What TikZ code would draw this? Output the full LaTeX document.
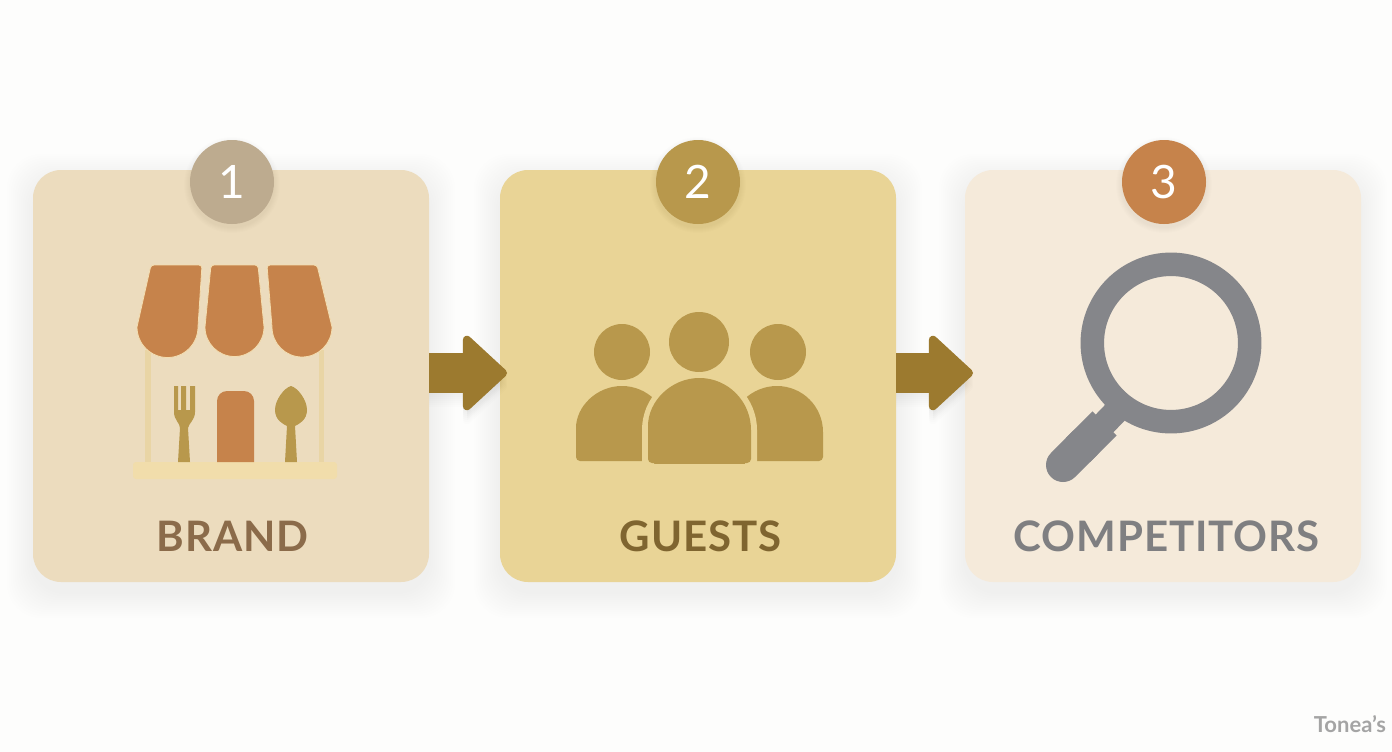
\documentclass[tikz,border=0pt]{standalone}
\usepackage{fontspec}
\setmainfont{Lato}
\newfontfamily\titlefont[LetterSpace=2]{Lato}
\usetikzlibrary{arrows.meta}

\definecolor{pagec}{HTML}{FDFDFC}
\definecolor{brandc}{HTML}{ECDCBE}
\definecolor{guestc}{HTML}{E9D496}
\definecolor{rivalc}{HTML}{F5EADA}
\definecolor{tanc}{HTML}{BDAB8F}
\definecolor{goldc}{HTML}{B8984C}
\definecolor{rustc}{HTML}{C6834B}
\definecolor{arrowc}{HTML}{9C7A2F}
\definecolor{glassc}{HTML}{85868A}
\definecolor{rimc}{HTML}{F3DDB0}
\definecolor{polec}{HTML}{E9D5A5}
\definecolor{basec}{HTML}{F1DDAB}
\definecolor{brandtext}{HTML}{8B6B4A}
\definecolor{guesttext}{HTML}{7F6530}
\definecolor{rivaltext}{HTML}{7F7F81}
\definecolor{marktext}{HTML}{A4A4A4}

\tikzset{
    card/.style={rectangle,rounded corners=28pt,minimum width=396pt,minimum height=412pt,inner sep=0pt,outer sep=0pt},
    badge/.style={circle,minimum size=84pt,inner sep=0pt,outer sep=0pt,text=white,font=\fontsize{46}{46}\selectfont},
    title/.style={font=\titlefont\bfseries\fontsize{42}{42}\selectfont,inner sep=0pt},
    flowtip/.style={-{Triangle[length=46pt,width=83pt,line width=8pt,round]}},
    flow/.style={arrowc,line width=40pt,flowtip},
    awning/.style={fill=rustc,draw=rimc,line width=0.8pt},
    utensil/.style={fill=goldc},
    person/.style={fill=goldc},
    glass/.style={glassc,line cap=butt}
}

\begin{document}
\begin{tikzpicture}[x=1pt,y=-1pt]

\useasboundingbox (0,0) rectangle (1392,752);
\fill[pagec] (0,0) rectangle (1392,752);

% Cards with soft shadows
\foreach \x/\name/\col in {231/brand/brandc,698/guests/guestc,1163/rivals/rivalc} {
    \foreach \s in {2,4,...,26} {
        \fill[black,opacity=0.0035,rounded corners=34pt]
            (\x-198-\s,170-\s+10) rectangle (\x+198+\s,582+\s+10);
    }
    \node[card,fill=\col] (\name) at (\x,376) {};
}

% Badges
\foreach \x/\name/\col/\num in {232/one/tanc/1,698/two/goldc/2,1164/three/rustc/3} {
    \foreach \s in {1,2,...,6} {
        \fill[black,opacity=0.006] (\x,185) circle[radius=42+\s];
    }
    \node[badge,fill=\col] (\name) at (\x,182) {\raisebox{-1pt}{\num}};
}

% Arrows
\foreach \a/\b/\t in {brand/guests/7,guests/rivals/8} {
    \foreach \d in {2,4,...,14} {
        \draw[black,opacity=0.007,line width=40pt,flowtip]
            ([shift={(0,-3+\d)}]\a.east) -- ([shift={(\t,-3+\d)}]\b.west);
    }
    \draw[flow] ([shift={(0,-3)}]\a.east) -- ([shift={(\t,-3)}]\b.west);
}

% Store
\fill[polec] (145,350) rectangle (151,464);
\fill[polec] (319,350) rectangle (324,464);
\fill[basec,rounded corners=3pt] (133,462) rectangle (337,479);
\draw[awning] (137,327) [rounded corners=3pt] -- (151,265) -- (202,265) [sharp corners] -- (198,327) arc[start angle=0,end angle=180,radius=30.5] -- cycle;
\draw[awning] (205,327) [rounded corners=3pt] -- (211,265) -- (258,265) [sharp corners] -- (264,327) arc[start angle=0,end angle=180,radius=29.5] -- cycle;
\draw[awning] (272,327) [rounded corners=3pt] -- (267,265) -- (317,265) [sharp corners] -- (332,327) arc[start angle=0,end angle=180,radius=30] -- cycle;
\fill[rustc] (217,462) -- (217,401) arc[start angle=180,end angle=270,radius=10] -- (244,391) arc[start angle=270,end angle=360,radius=10] -- (254,462) -- cycle;

% Fork and spoon
\fill[utensil] (174,386) -- (178,386) -- (178,410) -- (181,410) -- (181,386) -- (186,386) -- (186,410) -- (190,410) -- (190,386) -- (195,386)
    -- (195,412) .. controls (195,420) and (189,423) .. (188,428) -- (190,462) -- (178,462) -- (180,428) .. controls (180,423) and (174,420) .. (174,412) -- cycle;
\fill[utensil] (291,386) .. controls (298,388) and (307,400) .. (307,410) .. controls (307,420) and (299,424) .. (295,426) -- (297,462) -- (285,462) -- (287,426)
    .. controls (283,424) and (275,420) .. (275,410) .. controls (275,400) and (284,388) .. (291,386) -- cycle;

% People
\fill[person] (622,352) circle[radius=28];
\fill[person] (778,352) circle[radius=28];
\fill[person] (699,342) circle[radius=30];
\fill[person] (576,432) arc[start angle=180,end angle=360,radius=46] [rounded corners=4pt] -- (668,461) -- (576,461) -- cycle;
\fill[person] (731,432) arc[start angle=180,end angle=360,radius=46] [rounded corners=4pt] -- (823,461) -- (731,461) -- cycle;
\draw[person,draw=guestc,line width=12pt] (648,430) arc[start angle=180,end angle=360,x radius=51.5,y radius=52] -- (751,470) -- (648,470) -- cycle;
\fill[person] (648,430) arc[start angle=180,end angle=360,x radius=51.5,y radius=52] [rounded corners=4pt] -- (751,463) -- (648,463) -- cycle;

% Magnifying glass
\draw[glass,line width=23.5pt] (1171,343) circle[radius=78.7];
\draw[glass,line width=25pt] (1104,424) -- (1130,397);
\draw[glass,line width=34pt,line cap=round] (1063,465) -- (1085,443);
\draw[glass,line width=34pt] (1078,450) -- (1104.5,423.5);

% Titles
\node[title,text=brandtext] (brandname) at (232.5,536) {BRAND};
\node[title,text=guesttext] (guestname) at (700.5,536) {GUESTS};
\node[title,text=rivaltext] (rivalname) at (1166.5,536) {COMPETITORS};

% Watermark
\node[inner sep=0pt,text=marktext,font=\bfseries\fontsize{22}{22}\selectfont] (mark) at (1350,724) {Tonea's};

\end{tikzpicture}
\end{document}
